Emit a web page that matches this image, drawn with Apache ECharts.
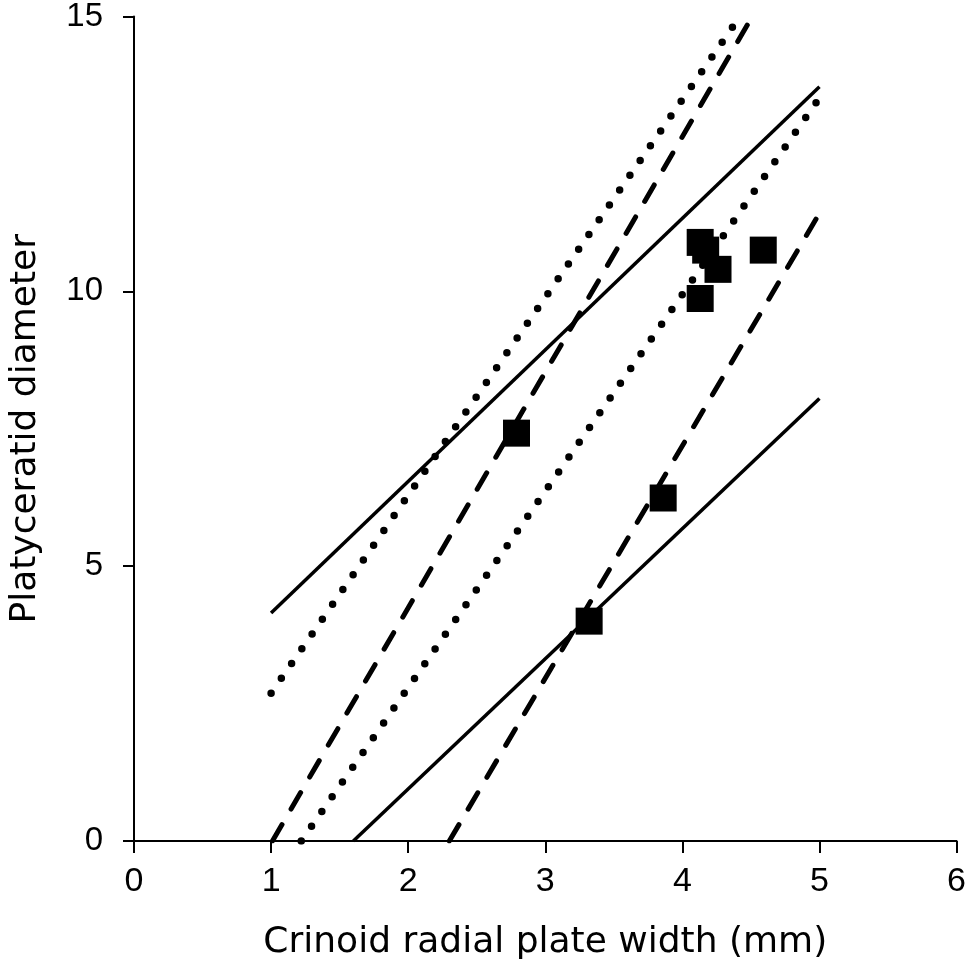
<!DOCTYPE html>
<html><head><meta charset="utf-8">
<script src="https://cdn.jsdelivr.net/npm/echarts@6/dist/echarts.min.js"></script>
<style>html,body{margin:0;padding:0;background:#fff}#c{width:969px;height:972px}</style>
</head><body><div id="c"></div>
<script>
var pointsX = [2.79, 3.32, 3.86, 4.13, 4.17, 4.26, 4.13, 4.59];
var pointsY = [7.42, 4.0, 6.24, 10.89, 10.75, 10.4, 9.87, 10.75];
var solidUpperX = [1.0, 5.0], solidUpperY = [4.15, 13.72];
var solidLowerX = [1.6, 5.0], solidLowerY = [0.0, 8.05];
var dottedUpperX = [1.0, 4.42], dottedUpperY = [2.69, 15.0];
var dottedLowerX = [1.22, 5.0], dottedLowerY = [0.0, 13.52];
var dashedUpperX = [1.01, 4.51], dashedUpperY = [0.0, 15.0];
var dashedLowerX = [2.3, 5.0], dashedLowerY = [0.0, 11.42];
var xTicks = [0, 1, 2, 3, 4, 5, 6];
var yTicks = [0, 5, 10, 15];

function zip(a, b) { return a.map(function (v, i) { return [v, b[i]]; }); }
function lineSeries(xs, ys, style) {
  return { type: 'line', data: zip(xs, ys), symbol: 'none', silent: true, z: 2,
    lineStyle: Object.assign({ color: '#000' }, style) };
}
var chart = echarts.init(document.getElementById('c'));
chart.setOption({
  animation: false,
  backgroundColor: '#fff',
  grid: { left: 131, right: 11, top: 16, bottom: 131 },
  xAxis: {
    type: 'value', min: xTicks[0], max: xTicks[xTicks.length - 1], interval: 1,
    name: 'Crinoid radial plate width (mm)', nameLocation: 'middle', nameGap: 84,
    nameTextStyle: { fontFamily: 'DejaVu Sans', fontSize: 36, color: '#000' },
    axisLine: { lineStyle: { color: '#000', width: 2 } },
    axisTick: { show: true, length: 12, lineStyle: { color: '#000', width: 2 } },
    axisLabel: { fontFamily: 'Liberation Sans', fontSize: 34, color: '#000', margin: 24 },
    splitLine: { show: false }
  },
  yAxis: {
    type: 'value', min: yTicks[0], max: yTicks[yTicks.length - 1], interval: 5,
    name: 'Platyceratid diameter', nameLocation: 'middle', nameGap: 90,
    nameTextStyle: { fontFamily: 'DejaVu Sans', fontSize: 36, color: '#000' },
    axisLine: { show: true, lineStyle: { color: '#000', width: 2 } },
    axisTick: { show: true, length: 11, lineStyle: { color: '#000', width: 2 } },
    axisLabel: { fontFamily: 'Liberation Sans', fontSize: 33, color: '#000', margin: 31 },
    splitLine: { show: false }
  },
  series: [
    lineSeries(solidUpperX, solidUpperY, { width: 3.5 }),
    lineSeries(solidLowerX, solidLowerY, { width: 3.5 }),
    lineSeries(dottedUpperX, dottedUpperY, { width: 7.5, type: [0, 18], cap: 'round' }),
    lineSeries(dottedLowerX, dottedLowerY, { width: 7.5, type: [0, 18], cap: 'round' }),
    lineSeries(dashedUpperX, dashedUpperY, { width: 5, type: [19, 18], cap: 'round' }),
    lineSeries(dashedLowerX, dashedLowerY, { width: 5, type: [19, 18], cap: 'round' }),
    { type: 'scatter', data: zip(pointsX, pointsY), symbol: 'rect', symbolSize: 27,
      itemStyle: { color: '#000', opacity: 1 }, z: 3 }
  ]
});
</script></body></html>
